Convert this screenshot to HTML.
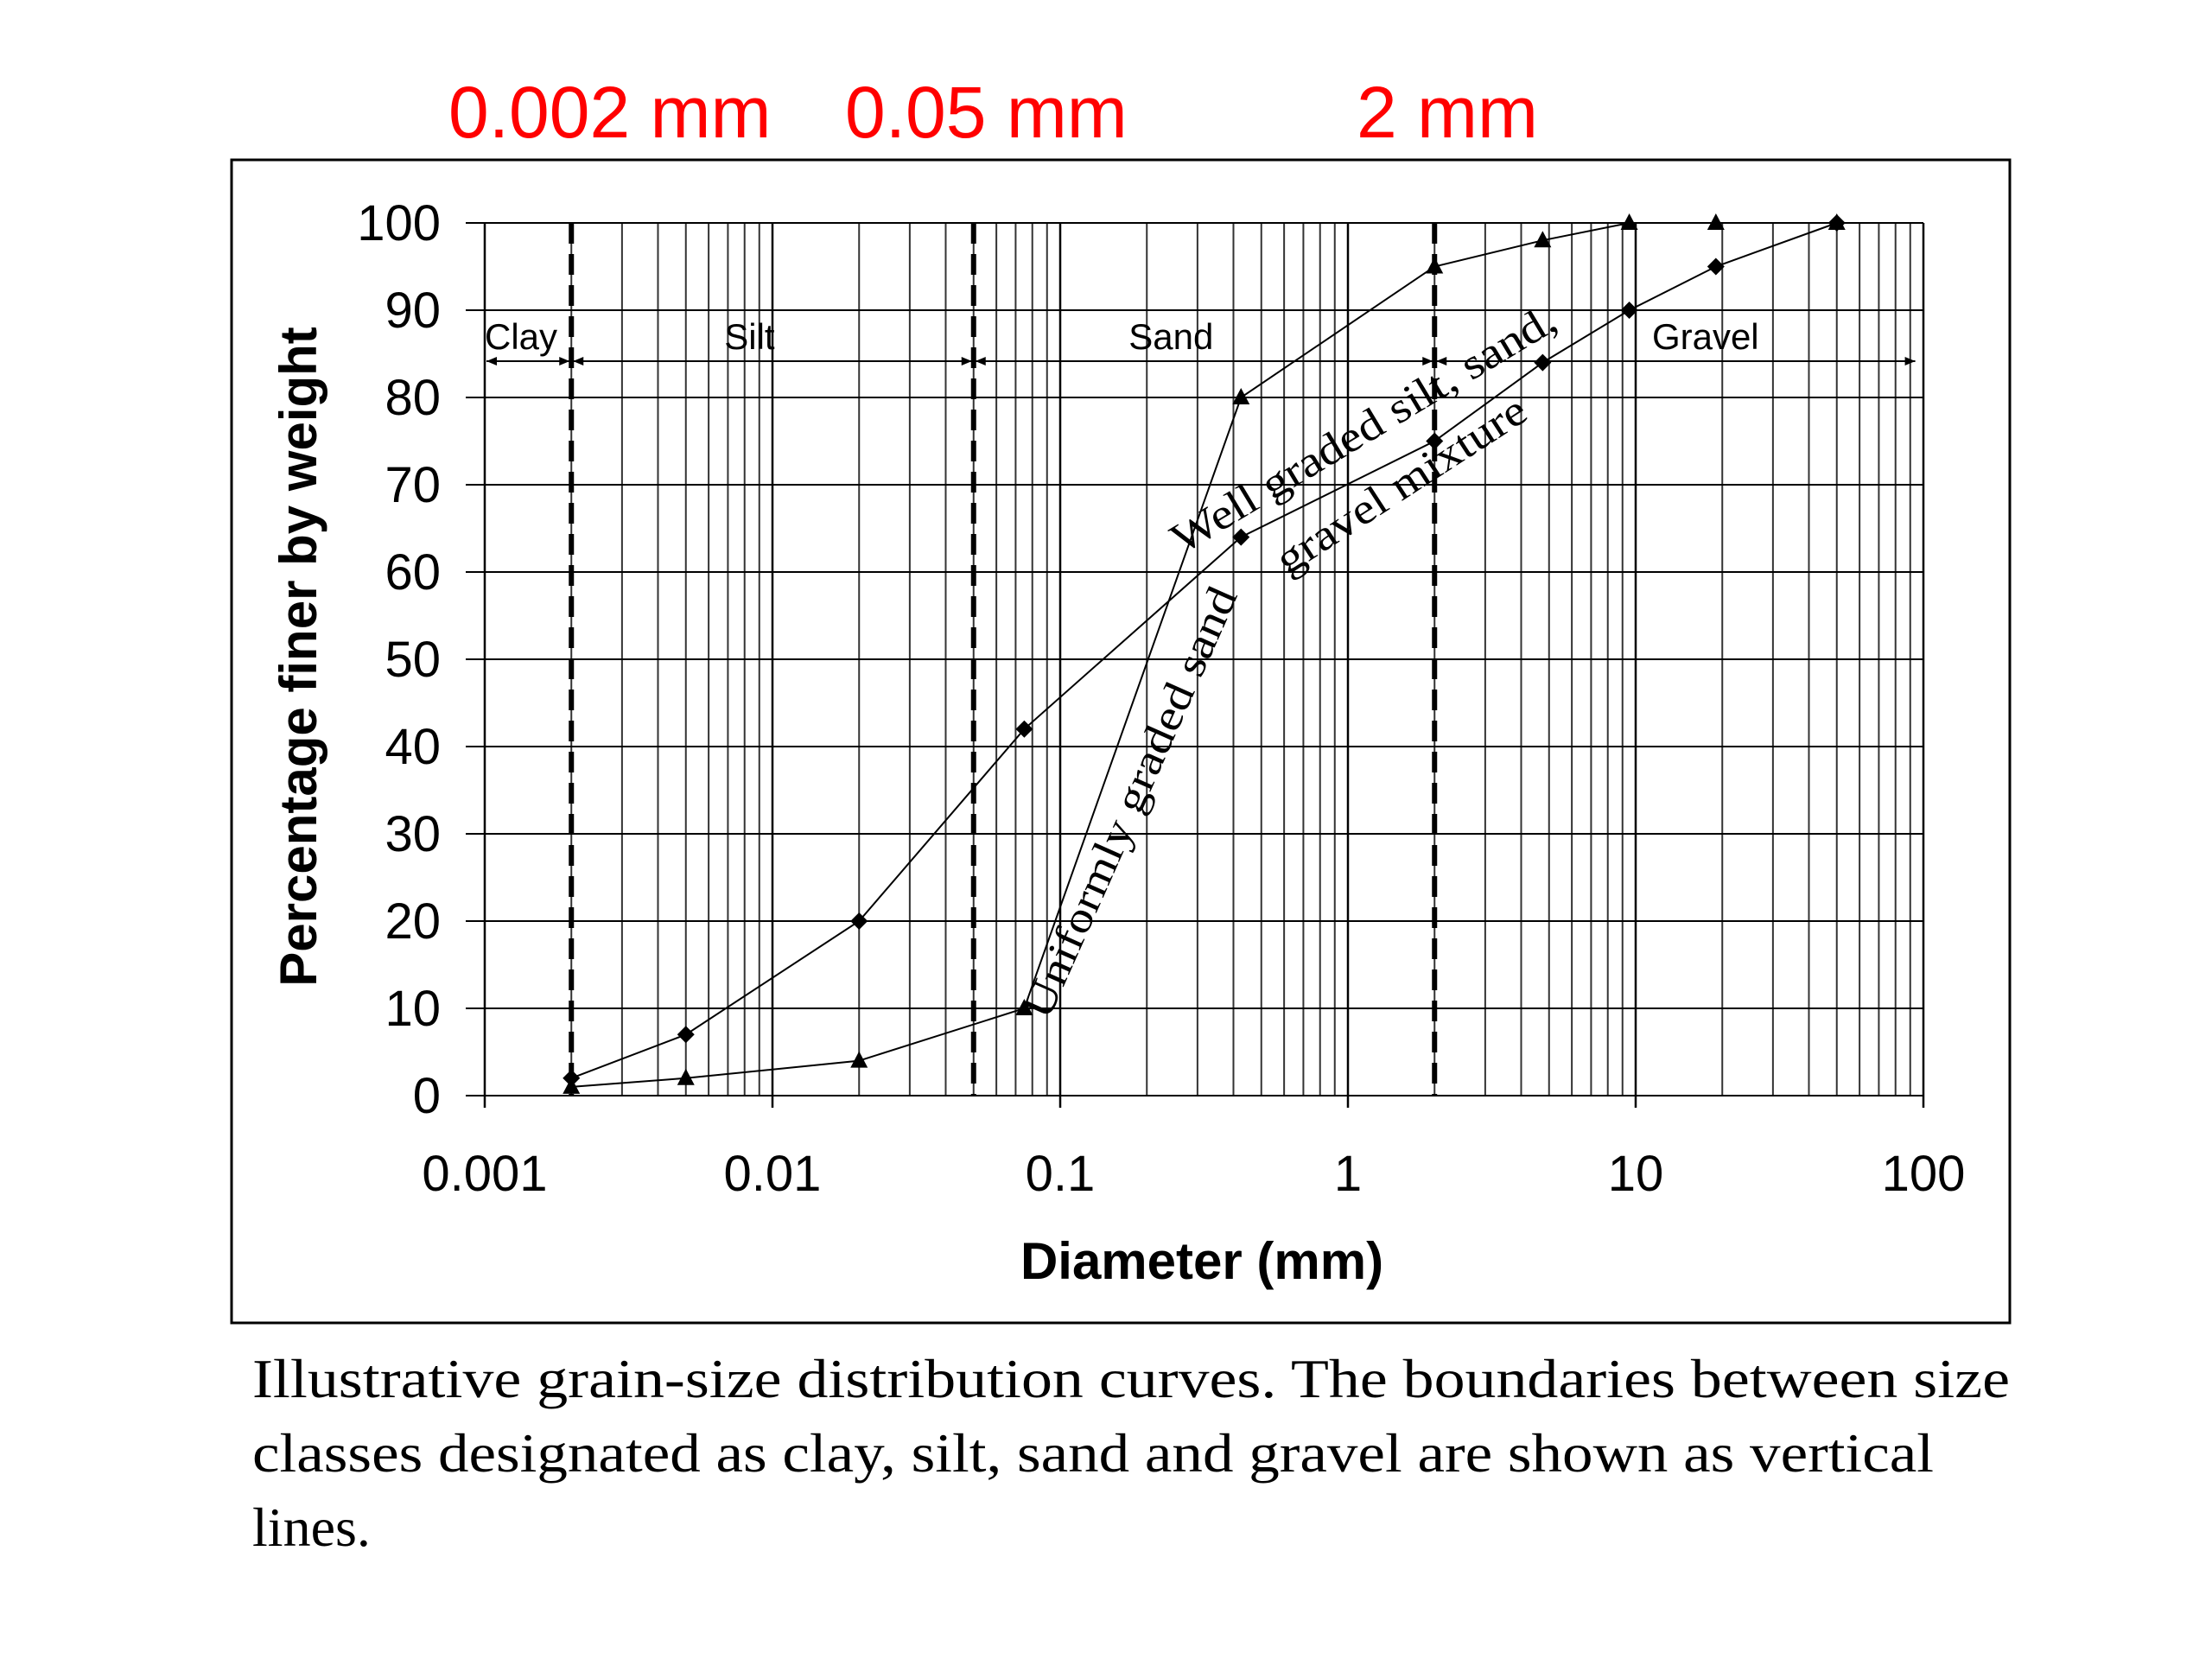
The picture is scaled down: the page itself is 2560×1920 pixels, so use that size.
<!DOCTYPE html>
<html><head><meta charset="utf-8"><style>
html,body{margin:0;padding:0;background:#fff;width:2560px;height:1920px;overflow:hidden}
svg{display:block}
.sans{font-family:"Liberation Sans",Arial,sans-serif}
.serif{font-family:"Liberation Serif","Times New Roman",serif}
</style></head><body>
<svg id="chart" width="2560" height="1920" viewBox="0 0 2560 1920" xmlns="http://www.w3.org/2000/svg">
<rect x="0" y="0" width="2560" height="1920" fill="#fff"/>
<text class="sans" x="519" y="159" font-size="84" fill="#ff0000">0.002 mm</text>
<text class="sans" x="978" y="159" font-size="84" fill="#ff0000">0.05 mm</text>
<text class="sans" x="1570" y="159" font-size="84" fill="#ff0000">2 mm</text>
<rect x="268" y="185" width="2058" height="1346" fill="none" stroke="#000" stroke-width="3"/>
<g id="grid"></g>
<g id="marks"></g>
<text class="sans" x="0" y="0" font-size="60" font-weight="bold" text-anchor="middle" transform="translate(366,760) rotate(-90)">Percentage finer by weight</text>
<text class="sans" x="1391" y="1480" font-size="60" font-weight="bold" text-anchor="middle">Diameter (mm)</text>
<text class="serif" x="0" y="0" font-size="50" textLength="540" lengthAdjust="spacingAndGlyphs" transform="translate(1213,1182) rotate(-66)">Uniformly graded sand</text>
<text class="serif" x="0" y="0" font-size="50" textLength="510" lengthAdjust="spacingAndGlyphs" transform="translate(1368,642) rotate(-31)">Well graded silt, sand,</text>
<text class="serif" x="0" y="0" font-size="50" textLength="335" lengthAdjust="spacingAndGlyphs" transform="translate(1490,666) rotate(-33)">gravel mixture</text>
<g>
<text class="serif" x="292" y="1617" font-size="64" textLength="2034" lengthAdjust="spacingAndGlyphs">Illustrative grain-size distribution curves.  The boundaries between size</text>
<text class="serif" x="292" y="1703" font-size="64" textLength="1946" lengthAdjust="spacingAndGlyphs">classes designated as clay, silt, sand and gravel are shown as vertical</text>
<text class="serif" x="292" y="1789" font-size="64">lines.</text>
</g>
</svg>
<script>
const xTickValues = [0.001, 0.01, 0.1, 1, 10, 100];
const xTickLabels = ["0.001", "0.01", "0.1", "1", "10", "100"];
const yTickValues = [0, 10, 20, 30, 40, 50, 60, 70, 80, 90, 100];
const boundaries = [0.002, 0.05, 2];
const regionNames = ["Clay", "Silt", "Sand", "Gravel"];
const regionLabelX = [0.001, 0.0068, 0.173, 11.4];
const wellSizes = [0.002, 0.005, 0.02, 0.075, 0.425, 2, 4.75, 9.5, 19, 50];
const wellPct = [2, 7, 20, 42, 64, 75, 84, 90, 95, 100];
const uniSizes = [0.002, 0.005, 0.02, 0.075, 0.425, 2, 4.75, 9.5, 19, 50];
const uniPct = [1, 2, 4, 10, 80, 95, 98, 100, 100, 100];

const X0 = 561, DEC = 333, Y0 = 1268, Y100 = 258;
const sx = v => X0 + (Math.log10(v) + 3) * DEC;
const sy = v => Y0 - (v / 100) * (Y0 - Y100);
const NS = "http://www.w3.org/2000/svg";
const grid = document.getElementById("grid");
const marks = document.getElementById("marks");
function mk(tag, attrs, parent) {
  const e = document.createElementNS(NS, tag);
  for (const k in attrs) e.setAttribute(k, attrs[k]);
  parent.appendChild(e);
  return e;
}
for (let d = -3; d < 2; d++) {
  for (let m = 1; m <= 9; m++) {
    const v = m * Math.pow(10, d);
    const l = mk("line", {x1: sx(v), x2: sx(v), y1: sy(100), y2: sy(0) + (m === 1 ? 14 : 0), stroke: m === 1 ? "#000" : "#333", "stroke-width": m === 1 ? 2.5 : 2}, grid);
    
    
  }
}
const lastV = mk("line", {x1: sx(100), x2: sx(100), y1: sy(100), y2: sy(0) + 14, stroke: "#000", "stroke-width": 2.5}, grid);


yTickValues.forEach(v => {
  const l = mk("line", {x1: 539, x2: sx(100), y1: sy(v), y2: sy(v), stroke: "#000", "stroke-width": 2}, grid);
  
  
  const t = mk("text", {x: 510, y: sy(v) + 20, "font-size": 58, "text-anchor": "end", class: "sans"}, grid);
  t.textContent = v;
  
  
});
xTickValues.forEach((v, i) => {
  const t = mk("text", {x: sx(v), y: 1378, "font-size": 58, "text-anchor": "middle", class: "sans"}, grid);
  t.textContent = xTickLabels[i];
  
  
});
boundaries.forEach(b => {
  const l = mk("line", {x1: sx(b), x2: sx(b), y1: sy(100), y2: sy(0), stroke: "#000", "stroke-width": 6, "stroke-dasharray": "24 12"}, marks);
  
  
});
const edges = [0.001].concat(boundaries, [95]);
const ay = 418;
for (let i = 0; i < regionNames.length; i++) {
  const a = sx(edges[i]) + 2, b = sx(edges[i + 1]) - 2;
  const l = mk("line", {x1: a, x2: b, y1: ay, y2: ay, stroke: "#000", "stroke-width": 2}, marks);
  
  
  const h1 = mk("path", {d: `M${a} ${ay} l12 -5 v10 z`, fill: "#000"}, marks);
  
  
  const h2 = mk("path", {d: `M${b} ${ay} l-12 -5 v10 z`, fill: "#000"}, marks);
  
  
  const t = mk("text", {x: sx(regionLabelX[i]), y: 404, "font-size": 42, class: "sans"}, marks);
  t.textContent = regionNames[i];
  
  
}
function curve(xs, ys, name, marker) {
  const pts = xs.map((x, i) => sx(x) + "," + sy(ys[i])).join(" ");
  const p = mk("polyline", {points: pts, fill: "none", stroke: "#000", "stroke-width": 2}, marks);
  
  
  xs.forEach((x, i) => {
    const cx = sx(x), cy = sy(ys[i]);
    const d = marker === "diamond" ? `M${cx} ${cy-10} L${cx+10} ${cy} L${cx} ${cy+10} L${cx-10} ${cy} Z` : `M${cx} ${cy-11} L${cx+10} ${cy+8} L${cx-10} ${cy+8} Z`;
    const m = mk("path", {d: d, fill: "#000"}, marks);
    
    
  });
}
curve(wellSizes, wellPct, "well-graded", "diamond");
curve(uniSizes, uniPct, "uniformly-graded", "triangle");
</script>
</body></html>
